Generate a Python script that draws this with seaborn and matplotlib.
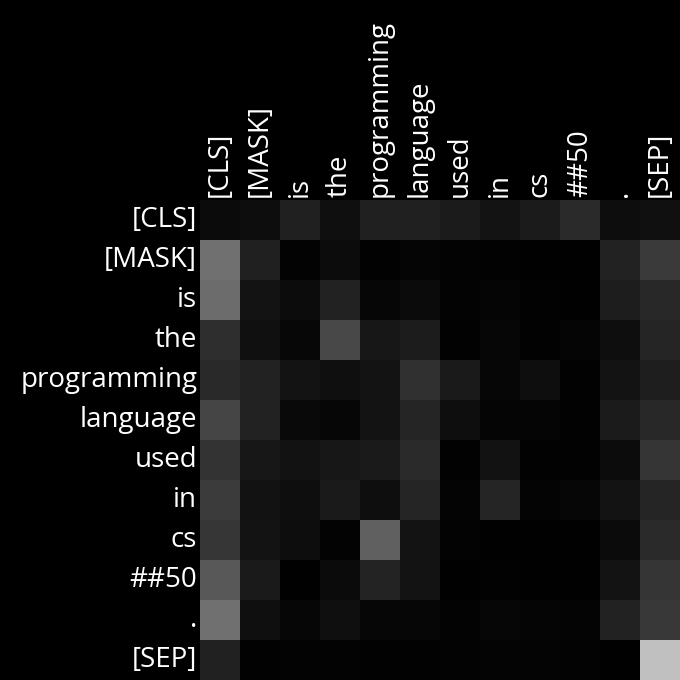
import numpy as np
import pandas as pd
import seaborn as sns
import matplotlib
matplotlib.use('Agg')
import matplotlib.pyplot as plt

# tokens of the sentence
tokens = ['[CLS]', '[MASK]', 'is', 'the', 'programming', 'language',
          'used', 'in', 'cs', '##50', '.', '[SEP]']

# attention weights, one row per query token
row_cls = [0.043, 0.051, 0.125, 0.059, 0.125, 0.125, 0.106, 0.078, 0.106, 0.165, 0.051, 0.063]
row_mask = [0.439, 0.125, 0.012, 0.047, 0.008, 0.020, 0.012, 0.008, 0.004, 0.004, 0.133, 0.227]
row_is = [0.424, 0.075, 0.047, 0.133, 0.027, 0.043, 0.012, 0.020, 0.008, 0.004, 0.114, 0.157]
row_the = [0.180, 0.063, 0.031, 0.282, 0.090, 0.110, 0.008, 0.024, 0.008, 0.020, 0.055, 0.145]
row_programming = [0.161, 0.133, 0.075, 0.059, 0.075, 0.188, 0.102, 0.024, 0.055, 0.008, 0.075, 0.118]
row_language = [0.271, 0.133, 0.039, 0.024, 0.078, 0.145, 0.055, 0.020, 0.020, 0.008, 0.106, 0.157]
row_used = [0.200, 0.090, 0.071, 0.090, 0.102, 0.165, 0.008, 0.071, 0.008, 0.008, 0.047, 0.208]
row_in = [0.231, 0.071, 0.055, 0.102, 0.055, 0.145, 0.016, 0.145, 0.016, 0.024, 0.075, 0.145]
row_cs = [0.212, 0.078, 0.051, 0.012, 0.376, 0.075, 0.012, 0.004, 0.004, 0.004, 0.043, 0.165]
row_50 = [0.345, 0.102, 0.004, 0.043, 0.137, 0.075, 0.004, 0.008, 0.004, 0.004, 0.075, 0.208]
row_dot = [0.439, 0.059, 0.024, 0.059, 0.024, 0.024, 0.012, 0.024, 0.020, 0.016, 0.133, 0.220]
row_sep = [0.129, 0.008, 0.012, 0.012, 0.008, 0.008, 0.012, 0.016, 0.016, 0.012, 0.004, 0.753]

attn = pd.DataFrame([row_cls, row_mask, row_is, row_the, row_programming, row_language,
                     row_used, row_in, row_cs, row_50, row_dot, row_sep],
                    index=tokens, columns=tokens)

plt.rcParams['font.family'] = ['Open Sans', 'DejaVu Sans']

fig = plt.figure(figsize=(6.8, 6.8), dpi=100, facecolor='black')
ax = fig.add_axes([200 / 680, 0, 480 / 680, 480 / 680])

sns.heatmap(attn, cmap='gray', vmin=0, vmax=1, cbar=False, square=False, ax=ax)

ax.xaxis.tick_top()
ax.set_xticks(np.arange(len(tokens)) + 0.5)
ax.set_xticklabels(tokens, rotation=90, fontsize=20, color='white')
ax.set_yticks(np.arange(len(tokens)) + 0.5)
ax.set_yticklabels(tokens, rotation=0, fontsize=20, color='white')
ax.tick_params(length=0, pad=2)
ax.set_xlabel('')
ax.set_ylabel('')

fig.savefig('out.png', dpi=100, facecolor='black')
